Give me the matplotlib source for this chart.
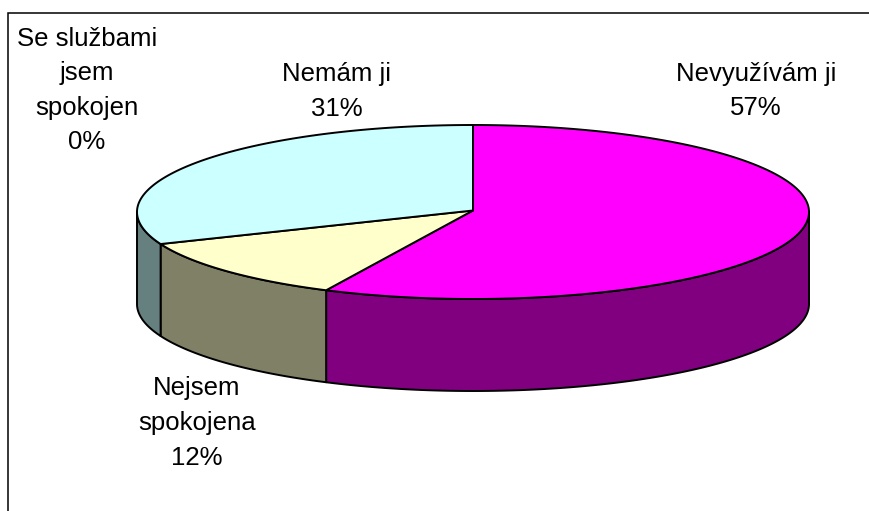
import numpy as np
import matplotlib
matplotlib.use("Agg")
import matplotlib.pyplot as plt

categories = ["Nevyužívám ji", "Nejsem\nspokojena", "Nemám ji", "Se službami\njsem\nspokojen"]
values = [57.2, 11.8, 31.0, 0.0]
top_colors = ["#FF00FF", "#FFFFCC", "#CCFFFF", "#FFFFFF"]
side_colors = ["#800080", "#808066", "#668080", "#808080"]
label_centers = [(756, 91), (197, 423), (337, 91.5), (87, 90.5)]

W, H = 869, 511
CX, CY, RX, RY, DEPTH = 473, 212, 336, 87, 92
APEX_Y = 210.5
EDGE = dict(edgecolor="black", linewidth=1.4, joinstyle="round")

plt.rcParams["font.family"] = ["Liberation Sans", "DejaVu Sans"]
fig = plt.figure(figsize=(W / 100, H / 100), dpi=100, facecolor="white")
ax = fig.add_axes([0, 0, 1, 1])
ax.set_xlim(0, W)
ax.set_ylim(H, 0)
ax.axis("off")

# chart frame: only its top and left edges fall inside the picture
ax.plot([8, 8, W + 5], [H + 5, 13, 13], color="black", lw=1.1, solid_joinstyle="miter")


def rim(t0, t1, dy=0.0):
    t = np.radians(np.linspace(t0, t1, max(2, int(abs(t1 - t0) * 2) + 2)))
    return CX + RX * np.sin(t), CY + dy - RY * np.cos(t)


edges = np.concatenate([[0], np.cumsum(values)]) * 360.0 / sum(values)

# side walls: only the front half of the rim (90..270 degrees) is visible
for i in range(len(values)):
    a, b = max(edges[i], 90), min(edges[i + 1], 270)
    if b <= a:
        continue
    xt, yt = rim(a, b)
    xb, yb = rim(b, a, DEPTH)
    ax.fill(np.r_[xt, xb], np.r_[yt, yb], facecolor=side_colors[i], zorder=2, **EDGE)

# top faces
for i in range(len(values)):
    if values[i] == 0:
        continue
    xt, yt = rim(edges[i], edges[i + 1])
    ax.fill(np.r_[CX, xt], np.r_[APEX_Y, yt], facecolor=top_colors[i], zorder=3, **EDGE)

for name, v, (lx, ly) in zip(categories, values, label_centers):
    ax.text(lx, ly, f"{name}\n{round(v)}%", ha="center", va="center", fontsize=18.5,
            linespacing=1.56, color="black", zorder=5)

fig.savefig("out.png", dpi=100, facecolor="white")
